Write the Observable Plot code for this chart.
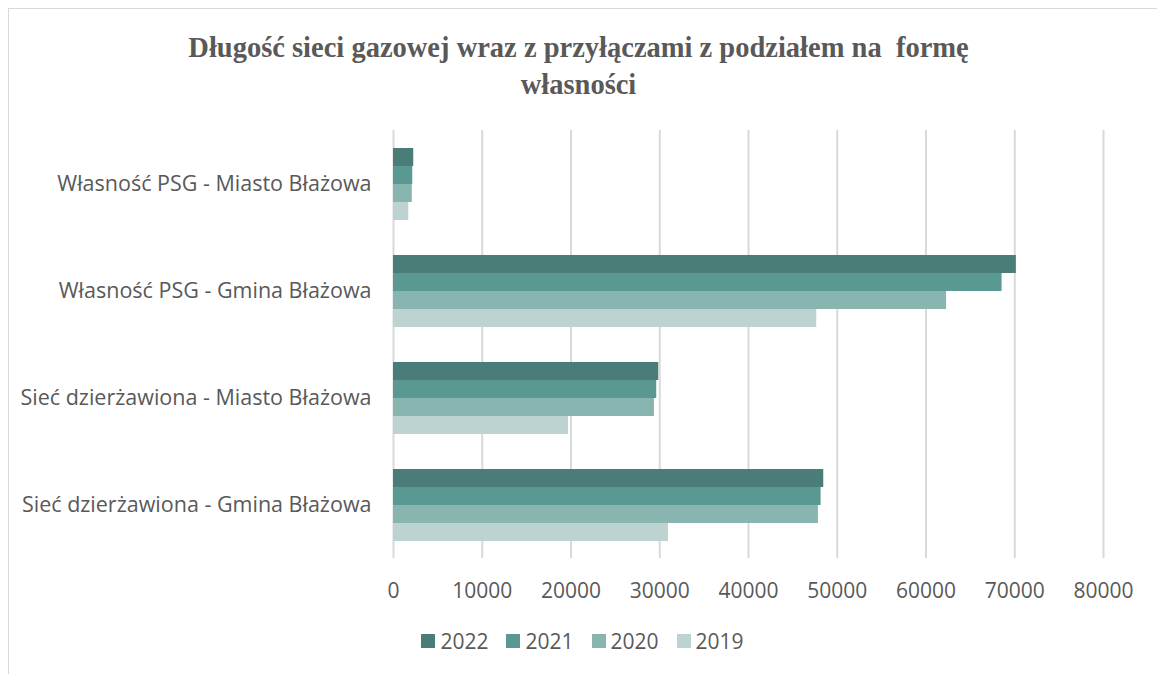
<!DOCTYPE html>
<html>
<head>
<meta charset="utf-8">
<script src="https://cdn.jsdelivr.net/npm/d3@7"></script>
<script src="https://cdn.jsdelivr.net/npm/@observablehq/plot@0.6"></script>
<style>
  html, body { margin: 0; padding: 0; background: #fff; overflow: hidden; width: 1157px; height: 674px; }
  #frame { position: absolute; left: 8px; top: 8px; width: 1170px; height: 700px; border: 1.5px solid #d9d9d9; box-sizing: border-box; }
  #title { position: absolute; left: 0; top: 29px; width: 1157px; text-align: center; font-family: "Liberation Serif", serif; font-weight: bold; font-size: 28.5px; line-height: 37px; color: #595959; white-space: pre; }
  #chart { position: absolute; left: 0; top: 110px; }
  #legend { position: absolute; left: 0; top: 627px; width: 1157px; display: flex; justify-content: center; font-family: "Open Sans", sans-serif; font-size: 21px; color: #595959; padding-left: 8px; box-sizing: border-box; }
  .item { display: flex; align-items: center; margin: 0 9px; }
  .sw { width: 14px; height: 14px; margin-right: 5px; }
</style>
</head>
<body>
<div id="frame"></div>
<div id="title">Długość sieci gazowej wraz z przyłączami z podziałem na  formę
własności</div>
<div id="chart"></div>
<div id="legend"></div>
<script>
const categories = [
  "Własność PSG - Miasto Błażowa",
  "Własność PSG - Gmina Błażowa",
  "Sieć dzierżawiona - Miasto Błażowa",
  "Sieć dzierżawiona - Gmina Błażowa"
];
const years = ["2022", "2021", "2020", "2019"];
const v2022 = [2280, 70180, 29890, 48480];
const v2021 = [2170, 68570, 29660, 48180];
const v2020 = [2120, 62320, 29400, 47880];
const v2019 = [1720, 47690, 19730, 30980];
const colors = ["#4b7d78", "#5a9892", "#89b5b0", "#bdd3d1"];
const xTicks = [0, 10000, 20000, 30000, 40000, 50000, 60000, 70000, 80000];

const series = {"2022": v2022, "2021": v2021, "2020": v2020, "2019": v2019};
const data = [];
categories.forEach((c, i) => {
  years.forEach(y => data.push({category: c, year: y, value: series[y][i]}));
});

const chart = Plot.plot({
  width: 1157,
  height: 500,
  marginLeft: 393,
  marginRight: 54,
  marginTop: 20,
  marginBottom: 52,
  style: {fontFamily: "'Open Sans', sans-serif", fontSize: "21.5px", color: "#595959", background: "transparent"},
  x: {domain: [0, 80000], ticks: xTicks, tickFormat: d => String(d), tickSize: 0, tickPadding: 22, label: null},
  y: {domain: years, axis: null, paddingInner: 0, paddingOuter: 0.89},
  fy: {domain: categories, padding: 0, label: null, tickSize: 0, tickPadding: 22, axis: "left"},
  color: {domain: years, range: colors},
  marks: [
    Plot.gridX(xTicks, {stroke: "#d9d9d9", strokeWidth: 2, strokeOpacity: 1}),
    Plot.barX(data, {x: "value", y: "year", fy: "category", fill: "year", insetTop: 0, insetBottom: 0}),
    Plot.axisX({ticks: xTicks, tickFormat: d => String(d), tickSize: 0, tickPadding: 25, fill: "#595959", fontSize: 21})
  ]
});
document.getElementById("chart").appendChild(chart);

const legend = document.getElementById("legend");
years.forEach((y, i) => {
  const it = document.createElement("div");
  it.className = "item";
  const sw = document.createElement("div");
  sw.className = "sw";
  sw.style.background = colors[i];
  const t = document.createElement("span");
  t.textContent = y;
  it.appendChild(sw);
  it.appendChild(t);
  legend.appendChild(it);
});
</script>
</body>
</html>
